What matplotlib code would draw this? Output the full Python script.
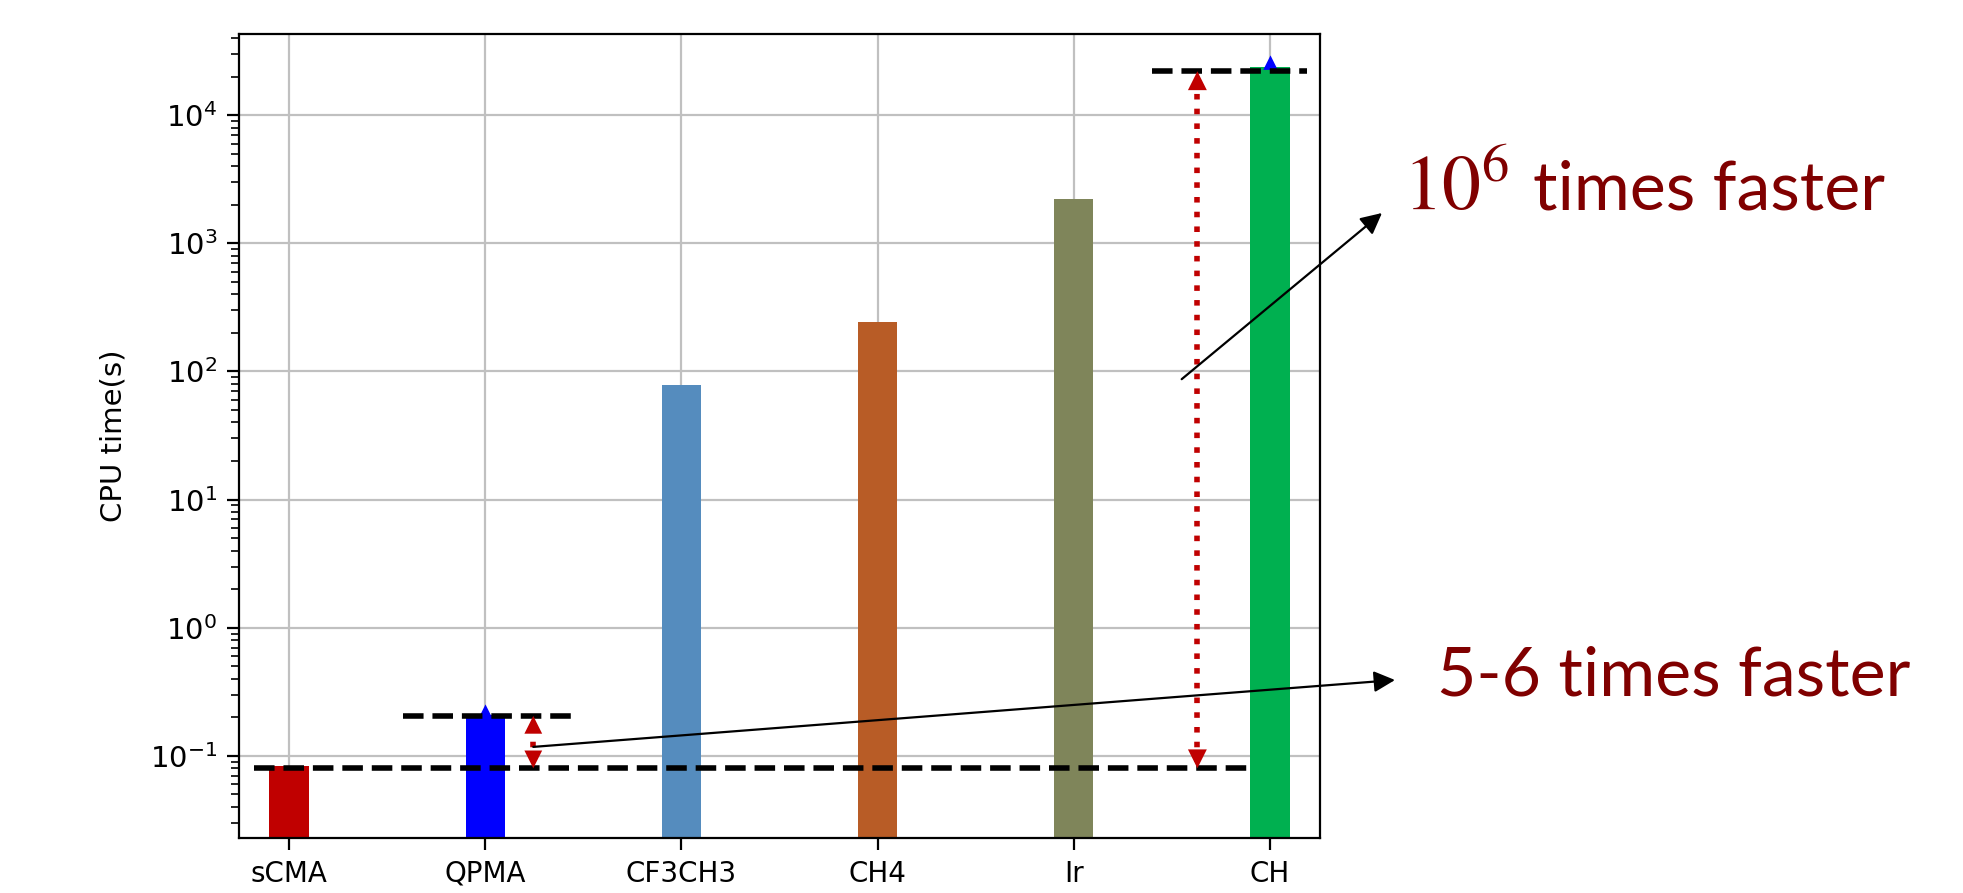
import matplotlib
matplotlib.use("Agg")
import matplotlib.pyplot as plt
from matplotlib.ticker import LogLocator

# ---- data ----
categories = ['sCMA', 'QPMA', 'CF3CH3', 'CH4', 'Ir', 'CH']
cpu_time = [0.083, 0.21, 78, 245, 2200, 23700]
bar_colors = ['#C00000', '#0000FF', '#558CBE', '#B85C26', '#7F855A', '#00B050']
marker_cats = ['QPMA', 'CH']
marker_vals = [0.22, 25500]
ytick_vals = [1e-1, 1e0, 1e1, 1e2, 1e3, 1e4]

base_level = 0.08      # sCMA reference
qpma_level = 0.205     # QPMA reference
ch_level = 22000       # CH reference

ann_big_pow = r'$10^6$'
ann_big_txt = 'times faster'
ann_small = '5-6 times faster'
ylabel = 'CPU time(s)'

plt.rcParams['mathtext.fontset'] = 'stix'

fig = plt.figure(figsize=(1963 / 200, 893 / 200), dpi=200)
ax = fig.add_axes([239 / 1963, 1 - 838 / 893, (1320 - 239) / 1963, (838 - 34) / 893])

x = list(range(len(categories)))
ax.bar(x, cpu_time, width=0.2, color=bar_colors, zorder=2)
ax.set_yscale('log')
ax.set_ylim(0.02286, 42970)
ax.set_yticks(ytick_vals)
ax.yaxis.set_minor_locator(LogLocator(base=10, subs=range(2, 10), numticks=20))
ax.set_xlim(-0.255, 5.255)
ax.set_xticks(x)
ax.set_xticklabels(categories)
ax.set_ylabel(ylabel, labelpad=8, fontsize=10.5)
ax.grid(True, which='major', color='#c0c0c0', linewidth=0.8)
ax.set_axisbelow(True)
ax.tick_params(axis='both', which='major', length=4.3)
ax.tick_params(axis='y', which='major', labelsize=10.5)
ax.tick_params(axis='y', which='minor', length=2.8, labelleft=False)

mx = [categories.index(c) for c in marker_cats]
ax.plot(mx, marker_vals, linestyle='none', marker='^', color='blue', ms=3.5, zorder=3)

# reference dashed lines
ax.plot([-0.18, 4.9], [base_level, base_level], '--', color='black', lw=2, zorder=4)
ax.plot([0.58, 1.45], [qpma_level, qpma_level], '--', color='black', lw=2, zorder=4)
ax.plot([4.40, 5.19], [ch_level, ch_level], '--', color='black', lw=2, zorder=4)

red = '#C00000'


def dotted_double_arrow(xpos, y0, y1, tail_lo, tail_hi, ms):
    ax.plot([xpos, xpos], [y0 * 1.12, y1 / 1.12], ':', color=red, lw=2, zorder=5)
    for tip, tail in ((y1, tail_hi), (y0, tail_lo)):
        ax.annotate('', xy=(xpos, tip), xytext=(xpos, tail),
                    arrowprops=dict(arrowstyle='-|>', lw=0, color=red,
                                    mutation_scale=ms, shrinkA=0, shrinkB=0),
                    zorder=6)


dotted_double_arrow(1.245, base_level, qpma_level, 0.125, 0.13, 16)
dotted_double_arrow(4.63, base_level, ch_level, 0.3, 5000, 17)

# black annotation arrows
ax.annotate('', xy=(1382 / 1963, 1 - 213 / 893), xycoords='figure fraction',
            xytext=(4.55, 87), textcoords='data',
            arrowprops=dict(arrowstyle='-|>', lw=0.8, color='black',
                            mutation_scale=16, shrinkA=0, shrinkB=0),
            annotation_clip=False, zorder=7)
ax.annotate('', xy=(1395 / 1963, 1 - 680 / 893), xycoords='figure fraction',
            xytext=(1.245, 0.1175), textcoords='data',
            arrowprops=dict(arrowstyle='-|>', lw=0.8, color='black',
                            mutation_scale=16, shrinkA=0, shrinkB=0),
            annotation_clip=False, zorder=7)

txtcolor = '#800000'
fig.text(1403 / 1963, 1 - 210 / 893, ann_big_pow, color=txtcolor, fontsize=28,
         va='baseline', ha='left')
fig.text(1533 / 1963, 1 - 210 / 893, ann_big_txt, color=txtcolor, fontsize=24.5,
         family='Lato', va='baseline', ha='left')
fig.text(1437 / 1963, 1 - 695 / 893, ann_small, color=txtcolor, fontsize=24.5,
         family='Lato', va='baseline', ha='left')

fig.savefig('out.png', dpi=200)
